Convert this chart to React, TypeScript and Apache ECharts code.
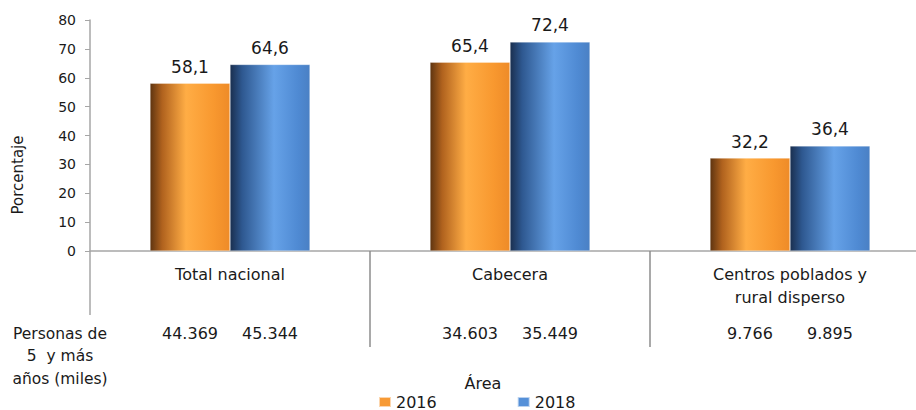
import React, { useEffect, useRef } from "react";
import * as echarts from "echarts";

const categories = ["Total nacional", "Cabecera", "Centros poblados y\nrural disperso"];
const values2016 = [58.1, 65.4, 32.2];
const values2018 = [64.6, 72.4, 36.4];
const personas2016 = [44369, 34603, 9766];
const personas2018 = [45344, 35449, 9895];
const yTicks = { min: 0, max: 80, interval: 10 };

const FONT = "'DejaVu Sans', 'Open Sans', sans-serif";
const TXT = "#1a1a1a";
const AXIS = "#a6a6a6";

const fmtPct = (v: number) => v.toFixed(1).replace(".", ",");
const fmtThousands = (n: number) => String(n).replace(/\B(?=(\d{3})+(?!\d))/g, ".");

const orangeGrad = new echarts.graphic.LinearGradient(0, 0, 1, 0, [
  { offset: 0, color: "#5e3410" },
  { offset: 0.15, color: "#b0621e" },
  { offset: 0.45, color: "#ffad45" },
  { offset: 0.8, color: "#f8982f" },
  { offset: 1, color: "#ee8b28" },
]);
const blueGrad = new echarts.graphic.LinearGradient(0, 0, 1, 0, [
  { offset: 0, color: "#1a2f4f" },
  { offset: 0.15, color: "#2e5890" },
  { offset: 0.55, color: "#66a2e8" },
  { offset: 0.85, color: "#4f8ad3" },
  { offset: 1, color: "#4a80c4" },
]);

export default function App() {
  const ref = useRef<HTMLDivElement>(null);
  useEffect(() => {
    if (!ref.current) return;
    const chart = echarts.init(ref.current, null, { renderer: "svg" });
    const BAR_W = 80;
    const barLabel = {
      show: true,
      position: "top",
      distance: 8,
      color: TXT,
      fontSize: 17,
      fontFamily: FONT,
      formatter: (p: any) => fmtPct(p.value),
    };
    chart.setOption({
      animation: false,
      textStyle: { fontFamily: FONT },
      grid: { left: 90, top: 20, height: 231, width: 840 },
      legend: {
        top: 394,
        left: 378,
        padding: 0,
        itemWidth: 12,
        itemHeight: 10,
        itemGap: 80,
        icon: "rect",
        textStyle: { fontSize: 16, lineHeight: 14, color: TXT, fontFamily: FONT },
        data: [
          { name: "2016", itemStyle: { color: "#f79a35" } },
          { name: "2018", itemStyle: { color: "#5590d8" } },
        ],
      },
      xAxis: {
        type: "category",
        data: categories,
        axisLine: { lineStyle: { color: AXIS, width: 1.5 } },
        axisTick: { show: false },
        axisLabel: {
          color: TXT,
          fontSize: 16,
          margin: 12,
          lineHeight: 23,
          fontFamily: FONT,
          interval: 0,
        },
      },
      yAxis: {
        type: "value",
        min: yTicks.min,
        max: yTicks.max,
        interval: yTicks.interval,
        splitLine: { show: false },
        axisLine: { show: true, lineStyle: { color: AXIS, width: 1.5 } },
        axisTick: { show: true, length: 5, lineStyle: { color: AXIS } },
        axisLabel: { color: TXT, fontSize: 14, margin: 14, fontFamily: FONT },
      },
      series: [
        {
          name: "2016",
          type: "bar",
          data: values2016,
          barWidth: BAR_W,
          barGap: "0%",
          itemStyle: { color: orangeGrad, borderColor: "rgba(255,255,255,0.6)", borderWidth: 0.5 },
          label: barLabel,
        },
        {
          name: "2018",
          type: "bar",
          data: values2018,
          barWidth: BAR_W,
          barGap: "0%",
          itemStyle: { color: blueGrad, borderColor: "rgba(255,255,255,0.6)", borderWidth: 0.5 },
          label: barLabel,
        },
        {
          type: "custom",
          silent: true,
          clip: false,
          data: categories.map((_, i) => [i, 0]),
          encode: { x: 0, y: 1 },
          renderItem: (params: any, api: any) => {
            const idx = api.value(0);
            const p = api.coord([idx, 0]);
            const band = api.size([1, 0])[0];
            const lx = p[0] - band / 2;
            const txt = (t: string, x: number) => ({
              type: "text",
              style: {
                text: t,
                x,
                y: p[1] + 82,
                align: "center",
                verticalAlign: "middle",
                fontSize: 16,
                fontFamily: FONT,
                fill: TXT,
              },
            });
            const children: any[] = [
              txt(fmtThousands(personas2016[params.dataIndex]), p[0] - BAR_W / 2),
              txt(fmtThousands(personas2018[params.dataIndex]), p[0] + BAR_W / 2),
              {
                type: "line",
                shape: { x1: lx, y1: p[1], x2: lx, y2: p[1] + (idx === 0 ? 64 : 96) },
                style: { stroke: idx === 0 ? AXIS : "#8c8c8c", lineWidth: 1.5 },
              },
            ];
            return { type: "group", children };
          },
        },
      ],
      graphic: [
        {
          type: "text",
          x: 18,
          y: 175,
          rotation: Math.PI / 2,
          style: {
            text: "Porcentaje",
            align: "center",
            verticalAlign: "middle",
            fontSize: 15,
            fontFamily: FONT,
            fill: TXT,
          },
        },
        {
          type: "text",
          x: 60,
          y: 356,
          style: {
            text: "Personas de\n5  y más\naños (miles)",
            align: "center",
            verticalAlign: "middle",
            lineHeight: 22.5,
            fontSize: 15.5,
            fontFamily: FONT,
            fill: TXT,
          },
        },
        {
          type: "text",
          x: 483,
          y: 383,
          style: {
            text: "Área",
            align: "center",
            verticalAlign: "middle",
            fontSize: 16,
            fontFamily: FONT,
            fill: TXT,
          },
        },
      ],
    });
    return () => chart.dispose();
  }, []);
  return (
    <div style={{ width: 916, height: 410, position: "absolute", left: 0, top: 0, overflow: "hidden" }}>
      <div ref={ref} style={{ width: 940, height: 410 }} />
    </div>
  );
}
